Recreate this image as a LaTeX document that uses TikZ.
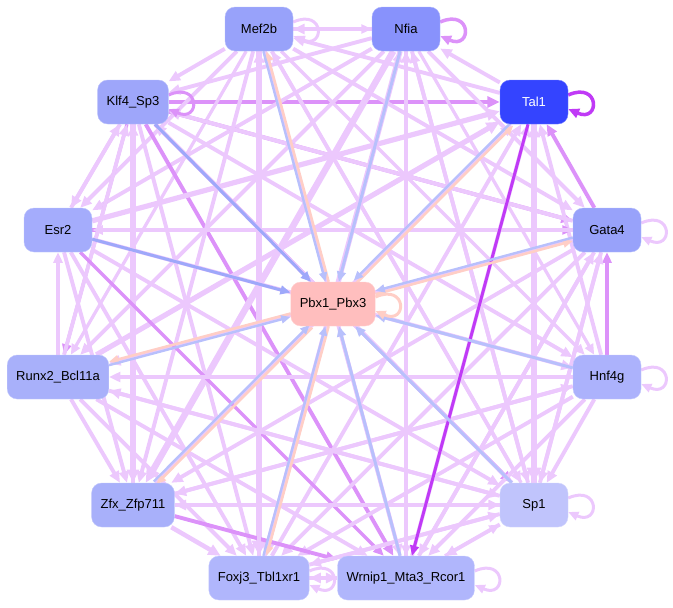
\documentclass[tikz,border=0pt]{standalone}
\usepackage{fontspec}
\setmainfont{Liberation Sans}
\usetikzlibrary{arrows.meta,backgrounds}

\definecolor{cLight}{RGB}{236,200,253}
\definecolor{cMid}{RGB}{220,146,249}
\definecolor{cStrong}{RGB}{192,58,246}
\definecolor{cBlue}{RGB}{184,192,252}
\definecolor{cBlueD}{RGB}{158,168,250}
\definecolor{cPink}{RGB}{255,206,198}
\definecolor{fTal}{RGB}{52,68,255}
\definecolor{fNfia}{RGB}{136,146,252}
\definecolor{fMef}{RGB}{152,162,250}
\definecolor{fKlf}{RGB}{158,166,250}
\definecolor{fEsr}{RGB}{164,172,252}
\definecolor{fGata}{RGB}{152,162,250}
\definecolor{fRunx}{RGB}{168,176,250}
\definecolor{fHnf}{RGB}{172,178,252}
\definecolor{fZfx}{RGB}{168,176,250}
\definecolor{fFoxj}{RGB}{176,182,252}
\definecolor{fWrn}{RGB}{176,182,252}
\definecolor{fSp}{RGB}{192,196,252}
\definecolor{fPbx}{RGB}{255,190,190}

\tikzset{
  tf/.style={rectangle, rounded corners=10pt, minimum width=68pt, minimum height=44pt,
    inner xsep=9pt, font=\fontsize{13}{15}\selectfont, text=black},
  link/.style={-{Triangle[length=6pt 1.4,width=4.5pt 1.4]}},
}

\begin{document}
\begin{tikzpicture}[x=1pt,y=-1pt]
\useasboundingbox (0,0) rectangle (673,608);

% factors
\node[tf, fill=fMef, draw=fMef!70!white] (mef) at (259,29) {Mef2b};
\node[tf, fill=fNfia, draw=fNfia!70!white] (nfia) at (406,29) {Nfia};
\node[tf, fill=fKlf, draw=fKlf!70!white] (klf) at (133,102) {Klf4\_Sp3};
\node[tf, fill=fTal, draw=fTal!70!white, text=white] (tal) at (534,102) {Tal1};
\node[tf, fill=fEsr, draw=fEsr!70!white] (esr) at (58,230) {Esr2};
\node[tf, fill=fGata, draw=fGata!70!white] (gata) at (607,230) {Gata4};
\node[tf, fill=fPbx, draw=fPbx!70!white] (pbx) at (333,304) {Pbx1\_Pbx3};
\node[tf, fill=fRunx, draw=fRunx!70!white] (runx) at (58,377) {Runx2\_Bcl11a};
\node[tf, fill=fHnf, draw=fHnf!70!white] (hnf) at (607,377) {Hnf4g};
\node[tf, fill=fZfx, draw=fZfx!70!white] (zfx) at (133,505) {Zfx\_Zfp711};
\node[tf, fill=fSp, draw=fSp!70!white] (sp) at (534,505) {Sp1};
\node[tf, fill=fFoxj, draw=fFoxj!70!white] (foxj) at (259,578) {Foxj3\_Tbl1xr1};
\node[tf, fill=fWrn, draw=fWrn!70!white] (wrn) at (406,578) {Wrnip1\_Mta3\_Rcor1};

\begin{scope}[on background layer]
% outer links
\foreach \a/\b/\c/\w in {
  nfia/mef/cLight/3pt, mef/nfia/cLight/2.5pt, tal/nfia/cLight/3pt, tal/mef/cLight/3pt,
  klf/tal/cMid/3.5pt, mef/klf/cLight/3pt, nfia/klf/cLight/3pt, mef/esr/cLight/3pt,
  nfia/esr/cLight/3pt, mef/runx/cLight/2.5pt, nfia/runx/cLight/3pt, klf/esr/cLight/3pt,
  esr/klf/cLight/3pt, runx/esr/cLight/2.5pt, klf/runx/cMid/2.5pt, runx/klf/cLight/3pt,
  klf/zfx/cLight/4pt, zfx/klf/cLight/3pt, klf/foxj/cLight/3pt, klf/wrn/cMid/3pt,
  klf/sp/cMid/3pt, klf/gata/cMid/3pt, klf/hnf/cLight/3pt, mef/foxj/cLight/5pt,
  mef/zfx/cLight/3pt, mef/wrn/cLight/3pt, mef/sp/cLight/3pt, mef/gata/cLight/3pt,
  mef/hnf/cLight/2.5pt, nfia/zfx/cLight/5pt, nfia/foxj/cLight/4pt, nfia/wrn/cLight/2.5pt,
  nfia/sp/cLight/3pt, nfia/gata/cLight/3pt, nfia/hnf/cLight/2.5pt, tal/sp/cLight/5pt,
  zfx/tal/cLight/3pt, runx/tal/cLight/4pt, esr/tal/cLight/4pt, foxj/tal/cLight/3pt,
  gata/tal/cMid/3pt, hnf/tal/cLight/3pt, sp/tal/cLight/4pt, wrn/tal/cLight/3pt,
  esr/gata/cMid/2.5pt, gata/esr/cLight/2.5pt, gata/klf/cLight/3pt, gata/runx/cLight/3pt,
  gata/zfx/cLight/3pt, gata/foxj/cLight/3pt, gata/wrn/cLight/3pt, gata/sp/cLight/3pt,
  hnf/gata/cMid/2.5pt, sp/gata/cLight/3pt, wrn/gata/cLight/3pt, esr/hnf/cLight/3pt,
  esr/sp/cLight/3pt, esr/wrn/cMid/2.5pt, esr/foxj/cLight/3pt, esr/zfx/cLight/3pt,
  runx/zfx/cLight/3pt, runx/sp/cLight/3pt, runx/wrn/cLight/3pt, runx/foxj/cLight/3pt,
  hnf/runx/cLight/3pt, hnf/zfx/cLight/3pt, hnf/foxj/cLight/3pt, hnf/sp/cLight/3pt,
  hnf/wrn/cLight/3pt, zfx/hnf/cLight/3pt, zfx/sp/cLight/3pt, zfx/foxj/cLight/3.5pt,
  zfx/wrn/cMid/3pt, foxj/wrn/cLight/3pt, wrn/foxj/cLight/3pt, foxj/sp/cLight/3pt,
  wrn/sp/cLight/2.5pt, sp/wrn/cLight/3pt, sp/foxj/cLight/3pt, sp/klf/cLight/3pt,
  sp/mef/cLight/2.5pt, sp/nfia/cLight/3pt, sp/runx/cLight/3pt, sp/zfx/cLight/3pt,
  wrn/nfia/cLight/3pt, wrn/mef/cLight/2.5pt, foxj/mef/cLight/3pt, foxj/nfia/cLight/2.5pt}
  \draw[link, draw=\c, line width=1.3*\w] (\a) -- (\b);
\draw[link, draw=cStrong, line width=3pt] (tal) -- (wrn);
% links to and from the centre
\foreach \a/\c/\w in {klf/cBlueD/3pt, nfia/cBlue/3pt, esr/cBlueD/3pt,
  hnf/cBlue/3pt, sp/cBlue/3pt, wrn/cBlue/3pt}
  \draw[link, draw=\c, line width=\w] (\a) -- (pbx);
\foreach \a/\dx/\dy in {mef/1.6/0, tal/1.3/1.3, gata/0/1.7, runx/0/-1.7, zfx/1.3/1.3, foxj/1.6/0}{
  \draw[link, draw=cPink, line width=2.6pt, transform canvas={shift={(\dx,\dy)}}] (pbx) -- (\a);
  \draw[link, draw=cBlue, line width=2.4pt, transform canvas={shift={(-\dx,-\dy)}}] (\a) -- (pbx);
}
% self loops
\foreach \a/\c/\w in {mef/cLight/3pt, nfia/cMid/3.5pt, klf/cMid/3pt, tal/cStrong/3.5pt,
  gata/cLight/3pt, pbx/cPink/3pt, hnf/cLight/3pt, sp/cLight/3pt,
  foxj/cLight/3pt, wrn/cLight/3pt}
  \draw[link, draw=\c, line width=\w] ([yshift=7pt]\a.east)
    .. controls +(32,-14) and +(32,14) .. ([yshift=-7pt]\a.east);
\end{scope}
\end{tikzpicture}
\end{document}
